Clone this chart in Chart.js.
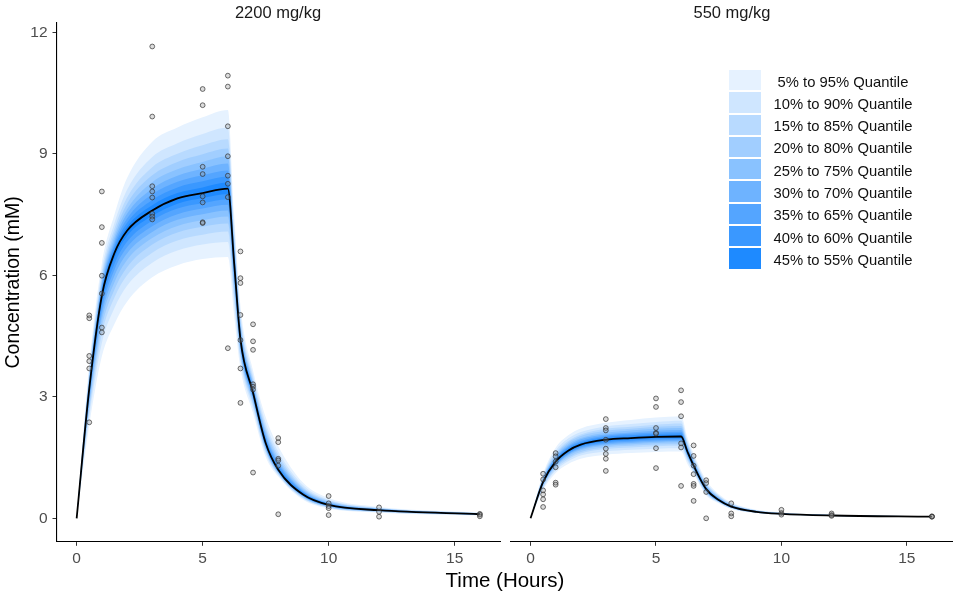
<!DOCTYPE html>
<html>
<head>
<meta charset="utf-8">
<title>Concentration quantile bands</title>
<script src="https://cdn.jsdelivr.net/npm/chart.js@4.4.1/dist/chart.umd.min.js"></script>
<style>
body { margin:0; background:#fff; font-family:"Liberation Sans", Arial, sans-serif; }
#wrap { position:relative; width:957px; height:597px; }
.panel { position:absolute; top:0; height:597px; }
.facet { position:absolute; top:2px; width:200px; text-align:center; font-size:16.5px; line-height:20px; color:#1a1a1a; }
#xtitle { position:absolute; left:405px; width:200px; top:568px; text-align:center; font-size:20.5px; line-height:24px; color:#000; }
#legend { position:absolute; left:729px; top:70px; }
.row { position:relative; height:22.3px; }
.sw { position:absolute; left:0; top:0; width:31.7px; height:20.3px; }
.lab { position:absolute; left:44px; width:140px; top:1.5px; text-align:center; font-size:14.8px; line-height:20.3px; color:#111; white-space:nowrap; }
</style>
</head>
<body>
<div id="wrap">
  <div class="panel" style="left:0;width:505px;"><canvas id="left"></canvas></div>
  <div class="panel" style="left:505px;width:452px;"><canvas id="right"></canvas></div>
  <div class="facet" style="left:178px;">2200 mg/kg</div>
  <div class="facet" style="left:632px;">550 mg/kg</div>
  <div id="xtitle">Time (Hours)</div>
  <div id="legend"></div>
</div>

<script>
// simulation time grid (hours), shared by both doses
var timeGrid = [0, 0.5, 1, 1.5, 2, 3, 4, 5, 6, 6.25, 6.5, 7, 7.5, 8, 9, 10, 12, 16];
var xTicks = [0, 5, 10, 15];
var yTicks = [0, 3, 6, 9, 12];

// ---- 2200 mg/kg ----
var median2200 = [0, 3.2, 5.5, 6.55, 7.1, 7.6, 7.9, 8.03, 8.14, 6.3, 4.42, 3.1, 1.86, 1.2, 0.58, 0.33, 0.2, 0.1];
var q95_2200 = [0, 3.80, 6.30, 7.50, 8.40, 9.30, 9.65, 9.90, 10.08, 7.50, 5.25, 3.65, 2.50, 1.78, 0.87, 0.50, 0.28, 0.14];
var q90_2200 = [0, 3.67, 6.12, 7.29, 8.11, 8.92, 9.26, 9.49, 9.65, 7.24, 5.07, 3.53, 2.36, 1.65, 0.81, 0.46, 0.26, 0.13];
var q85_2200 = [0, 3.58, 6.00, 7.15, 7.92, 8.67, 9.00, 9.21, 9.36, 7.06, 4.94, 3.45, 2.26, 1.57, 0.76, 0.44, 0.25, 0.13];
var q80_2200 = [0, 3.51, 5.91, 7.04, 7.77, 8.47, 8.80, 8.99, 9.13, 6.91, 4.85, 3.38, 2.19, 1.50, 0.73, 0.42, 0.24, 0.12];
var q75_2200 = [0, 3.45, 5.83, 6.94, 7.63, 8.30, 8.62, 8.80, 8.94, 6.79, 4.76, 3.33, 2.12, 1.44, 0.70, 0.40, 0.23, 0.12];
var q70_2200 = [0, 3.39, 5.76, 6.85, 7.52, 8.14, 8.46, 8.63, 8.76, 6.68, 4.69, 3.28, 2.06, 1.39, 0.67, 0.38, 0.23, 0.11];
var q65_2200 = [0, 3.34, 5.69, 6.77, 7.40, 8.00, 8.31, 8.47, 8.59, 6.58, 4.61, 3.23, 2.01, 1.34, 0.65, 0.37, 0.22, 0.11];
var q60_2200 = [0, 3.29, 5.62, 6.70, 7.30, 7.86, 8.17, 8.32, 8.44, 6.49, 4.55, 3.19, 1.96, 1.29, 0.63, 0.36, 0.21, 0.11];
var q55_2200 = [0, 3.25, 5.56, 6.62, 7.20, 7.73, 8.03, 8.17, 8.29, 6.39, 4.48, 3.14, 1.91, 1.24, 0.60, 0.34, 0.21, 0.10];
var q45_2200 = [0, 3.13, 5.39, 6.42, 6.97, 7.47, 7.77, 7.91, 8.01, 6.20, 4.37, 3.06, 1.83, 1.19, 0.57, 0.32, 0.20, 0.10];
var q40_2200 = [0, 3.06, 5.27, 6.28, 6.83, 7.35, 7.65, 7.78, 7.88, 6.10, 4.31, 3.02, 1.81, 1.17, 0.56, 0.32, 0.19, 0.10];
var q35_2200 = [0, 2.99, 5.15, 6.14, 6.69, 7.21, 7.51, 7.65, 7.74, 6.00, 4.25, 2.98, 1.78, 1.16, 0.55, 0.31, 0.19, 0.09];
var q30_2200 = [0, 2.91, 5.02, 5.99, 6.54, 7.07, 7.37, 7.51, 7.60, 5.89, 4.19, 2.94, 1.75, 1.15, 0.54, 0.30, 0.18, 0.09];
var q25_2200 = [0, 2.83, 4.89, 5.83, 6.38, 6.92, 7.22, 7.36, 7.45, 5.77, 4.13, 2.90, 1.72, 1.13, 0.53, 0.29, 0.18, 0.09];
var q20_2200 = [0, 2.74, 4.73, 5.65, 6.20, 6.76, 7.06, 7.20, 7.28, 5.63, 4.05, 2.84, 1.69, 1.11, 0.51, 0.28, 0.17, 0.09];
var q15_2200 = [0, 2.63, 4.56, 5.45, 6.00, 6.56, 6.86, 7.00, 7.08, 5.48, 3.97, 2.79, 1.65, 1.09, 0.50, 0.27, 0.16, 0.08];
var q10_2200 = [0, 2.50, 4.33, 5.19, 5.74, 6.31, 6.61, 6.76, 6.82, 5.29, 3.86, 2.71, 1.60, 1.07, 0.48, 0.26, 0.15, 0.08];
var q05_2200 = [0, 2.30, 4.00, 4.80, 5.35, 5.95, 6.25, 6.40, 6.45, 5.00, 3.70, 2.60, 1.52, 1.03, 0.45, 0.24, 0.14, 0.07];

var obsTimes2200 = [0.5, 1, 3, 5, 6, 6.5, 7, 8, 10, 12, 16];
var obsConc2200 = [
  [5.01, 4.94, 4.01, 3.88, 3.70, 2.37],
  [8.07, 7.19, 6.80, 5.99, 5.55, 4.71, 4.59],
  [11.65, 9.92, 8.20, 8.07, 7.92, 7.52, 7.45, 7.38],
  [10.60, 10.20, 8.68, 8.50, 7.95, 7.80, 7.31, 7.29],
  [10.93, 10.66, 9.68, 8.94, 8.46, 8.26, 7.93, 4.20],
  [6.59, 5.93, 5.81, 5.02, 4.40, 3.70, 2.85],
  [4.79, 4.37, 4.16, 3.31, 3.25, 3.18, 1.13],
  [1.98, 1.88, 1.47, 1.43, 1.30, 0.10],
  [0.55, 0.37, 0.30, 0.25, 0.08],
  [0.27, 0.16, 0.04],
  [0.11, 0.09, 0.05]
];

// ---- 550 mg/kg ----
var median550 = [0, 0.9, 1.4, 1.67, 1.82, 1.94, 1.98, 2.01, 2.02, 1.65, 1.3, 0.72, 0.45, 0.29, 0.16, 0.11, 0.07, 0.04];
var q95_550 = [0, 1.10, 1.74, 2.05, 2.22, 2.36, 2.43, 2.49, 2.52, 2.00, 1.60, 0.94, 0.60, 0.39, 0.21, 0.14, 0.09, 0.05];
var q90_550 = [0, 1.06, 1.67, 1.97, 2.13, 2.27, 2.33, 2.38, 2.41, 1.92, 1.53, 0.89, 0.57, 0.37, 0.20, 0.13, 0.09, 0.05];
var q85_550 = [0, 1.03, 1.61, 1.91, 2.07, 2.21, 2.26, 2.31, 2.34, 1.87, 1.49, 0.86, 0.55, 0.35, 0.19, 0.13, 0.08, 0.05];
var q80_550 = [0, 1.00, 1.57, 1.87, 2.03, 2.16, 2.21, 2.26, 2.28, 1.83, 1.45, 0.83, 0.53, 0.34, 0.19, 0.13, 0.08, 0.05];
var q75_550 = [0, 0.98, 1.54, 1.83, 1.98, 2.11, 2.17, 2.21, 2.23, 1.79, 1.42, 0.81, 0.51, 0.33, 0.18, 0.12, 0.08, 0.04];
var q70_550 = [0, 0.96, 1.51, 1.79, 1.95, 2.07, 2.12, 2.16, 2.18, 1.76, 1.40, 0.79, 0.50, 0.32, 0.18, 0.12, 0.08, 0.04];
var q65_550 = [0, 0.95, 1.48, 1.76, 1.91, 2.04, 2.09, 2.12, 2.14, 1.73, 1.37, 0.77, 0.49, 0.31, 0.17, 0.12, 0.07, 0.04];
var q60_550 = [0, 0.93, 1.45, 1.73, 1.88, 2.01, 2.05, 2.08, 2.10, 1.70, 1.35, 0.75, 0.47, 0.31, 0.17, 0.11, 0.07, 0.04];
var q55_550 = [0, 0.92, 1.43, 1.70, 1.85, 1.97, 2.01, 2.05, 2.06, 1.68, 1.32, 0.74, 0.46, 0.30, 0.16, 0.11, 0.07, 0.04];
var q45_550 = [0, 0.88, 1.38, 1.65, 1.79, 1.91, 1.95, 1.98, 1.99, 1.63, 1.28, 0.71, 0.44, 0.29, 0.16, 0.11, 0.07, 0.04];
var q40_550 = [0, 0.87, 1.36, 1.62, 1.77, 1.88, 1.92, 1.95, 1.96, 1.60, 1.27, 0.70, 0.44, 0.28, 0.16, 0.11, 0.07, 0.04];
var q35_550 = [0, 0.85, 1.33, 1.59, 1.74, 1.85, 1.89, 1.92, 1.93, 1.58, 1.25, 0.69, 0.43, 0.28, 0.15, 0.11, 0.07, 0.04];
var q30_550 = [0, 0.84, 1.31, 1.57, 1.71, 1.82, 1.86, 1.89, 1.90, 1.55, 1.24, 0.67, 0.42, 0.27, 0.15, 0.10, 0.07, 0.04];
var q25_550 = [0, 0.82, 1.29, 1.54, 1.68, 1.79, 1.83, 1.86, 1.87, 1.53, 1.22, 0.66, 0.42, 0.27, 0.15, 0.10, 0.07, 0.04];
var q20_550 = [0, 0.80, 1.26, 1.50, 1.64, 1.75, 1.79, 1.82, 1.83, 1.50, 1.20, 0.64, 0.41, 0.26, 0.14, 0.10, 0.06, 0.03];
var q15_550 = [0, 0.77, 1.22, 1.46, 1.60, 1.71, 1.75, 1.78, 1.79, 1.46, 1.17, 0.63, 0.40, 0.25, 0.14, 0.10, 0.06, 0.03];
var q10_550 = [0, 0.74, 1.18, 1.41, 1.55, 1.65, 1.69, 1.72, 1.73, 1.42, 1.14, 0.60, 0.39, 0.24, 0.14, 0.09, 0.06, 0.03];
var q05_550 = [0, 0.70, 1.12, 1.34, 1.47, 1.57, 1.61, 1.64, 1.65, 1.35, 1.10, 0.57, 0.37, 0.23, 0.13, 0.09, 0.06, 0.03];

var obsTimes550 = [0.5, 1, 3, 5, 6, 6.5, 7, 8, 10, 12, 16];
var obsConc550 = [
  [1.10, 0.96, 0.69, 0.59, 0.47, 0.28],
  [1.61, 1.53, 1.40, 1.26, 0.88, 0.83],
  [2.45, 2.23, 2.17, 1.94, 1.72, 1.59, 1.47, 1.17],
  [2.96, 2.75, 2.23, 2.11, 2.09, 1.73, 1.24],
  [3.16, 2.87, 2.52, 1.85, 1.75, 0.80],
  [1.80, 1.54, 1.30, 1.09, 0.85, 0.80, 0.43],
  [0.94, 0.87, 0.65, 0.00],
  [0.37, 0.12, 0.05],
  [0.21, 0.13, 0.09],
  [0.12, 0.08, 0.06],
  [0.05, 0.04, 0.04]
];

// bands, widest first
var quantileLabels = ['5% to 95% Quantile', '10% to 90% Quantile', '15% to 85% Quantile',
  '20% to 80% Quantile', '25% to 75% Quantile', '30% to 70% Quantile',
  '35% to 65% Quantile', '40% to 60% Quantile', '45% to 55% Quantile'];
var bandColors = ['#E6F2FF', '#CFE6FF', '#B8DAFF', '#A1CEFF', '#89C2FF', '#6EB3FF', '#54A5FF', '#3A98FF', '#1E8AFF'];

var upper2200 = [q95_2200, q90_2200, q85_2200, q80_2200, q75_2200, q70_2200, q65_2200, q60_2200, q55_2200];
var lower2200 = [q05_2200, q10_2200, q15_2200, q20_2200, q25_2200, q30_2200, q35_2200, q40_2200, q45_2200];
var upper550 = [q95_550, q90_550, q85_550, q80_550, q75_550, q70_550, q65_550, q60_550, q55_550];
var lower550 = [q05_550, q10_550, q15_550, q20_550, q25_550, q30_550, q35_550, q40_550, q45_550];

var FONT = "'Liberation Sans', Arial, sans-serif";
Chart.defaults.font.family = FONT;

function pts(arr) {
  return timeGrid.map(function (t, i) { return { x: t, y: arr[i] }; });
}

function buildDatasets(median, upper, lower, obsTimes, obsConc) {
  var obs = [];
  obsTimes.forEach(function (t, i) {
    obsConc[i].forEach(function (c) { obs.push({ x: t, y: c }); });
  });
  var sets = [];
  sets.push({
    data: obs, showLine: false, pointRadius: 2.4, borderWidth: 1,
    pointBorderColor: 'rgba(50,50,50,0.7)', pointBackgroundColor: 'rgba(140,140,140,0.3)', order: 0
  });
  sets.push({
    data: pts(median), borderColor: '#000', borderWidth: 1.8, pointRadius: 0,
    cubicInterpolationMode: 'monotone', fill: false, order: 1
  });
  upper.forEach(function (u, k) {
    var idx = sets.length;
    sets.push({
      data: pts(u), borderWidth: 0, borderColor: 'transparent', pointRadius: 0,
      cubicInterpolationMode: 'monotone', backgroundColor: bandColors[k],
      fill: { target: idx + 1 }, order: 20 - k
    });
    sets.push({
      data: pts(lower[k]), borderWidth: 0, borderColor: 'transparent', pointRadius: 0,
      cubicInterpolationMode: 'monotone', fill: false, order: 20 - k
    });
  });
  return sets;
}

function makePanel(id, sets, showY, pad) {
  return new Chart(document.getElementById(id), {
    type: 'line',
    data: { datasets: sets },
    options: {
      responsive: true,
      maintainAspectRatio: false,
      animation: false,
      events: [],
      layout: { padding: pad },
      plugins: {
        legend: { display: false },
        tooltip: { enabled: false },
        title: { display: false }
      },
      scales: {
        x: {
          type: 'linear', min: -0.8, max: 16.8,
          afterBuildTicks: function (s) { s.ticks = xTicks.map(function (v) { return { value: v }; }); },
          afterFit: function (s) { s.height = 55.2; },
          ticks: { color: '#4d4d4d', font: { size: 15.5 }, padding: 4, maxRotation: 0 },
          grid: { drawOnChartArea: false, drawTicks: true, tickLength: 4, color: '#333' },
          border: { display: true, color: '#000', width: 1.1 }
        },
        y: {
          type: 'linear', display: showY, min: -0.58, max: 12.23,
          afterBuildTicks: function (s) { s.ticks = yTicks.map(function (v) { return { value: v }; }); },
          afterFit: function (s) { if (showY) s.width = 56.5; },
          title: {
            display: true, text: 'Concentration (mM)', color: '#000',
            font: { size: 19.5 }, padding: { top: 1.5, bottom: 0 }
          },
          ticks: { color: '#4d4d4d', font: { size: 15.5 }, padding: 5 },
          grid: { drawOnChartArea: false, drawTicks: true, tickLength: 4, color: '#333' },
          border: { display: true, color: '#000', width: 1.1 }
        }
      }
    }
  });
}

makePanel('left',
  buildDatasets(median2200, upper2200, lower2200, obsTimes2200, obsConc2200),
  true, { left: 0, right: 4.8, top: 23, bottom: 0 });
makePanel('right',
  buildDatasets(median550, upper550, lower550, obsTimes550, obsConc550),
  false, { left: 5.5, right: 2.8, top: 23, bottom: 0 });

// legend
var legend = document.getElementById('legend');
quantileLabels.forEach(function (lab, k) {
  var row = document.createElement('div');
  row.className = 'row';
  var sw = document.createElement('div');
  sw.className = 'sw';
  sw.style.background = bandColors[k];
  var tx = document.createElement('div');
  tx.className = 'lab';
  tx.textContent = lab;
  row.appendChild(sw);
  row.appendChild(tx);
  legend.appendChild(row);
});
</script>
</body>
</html>
